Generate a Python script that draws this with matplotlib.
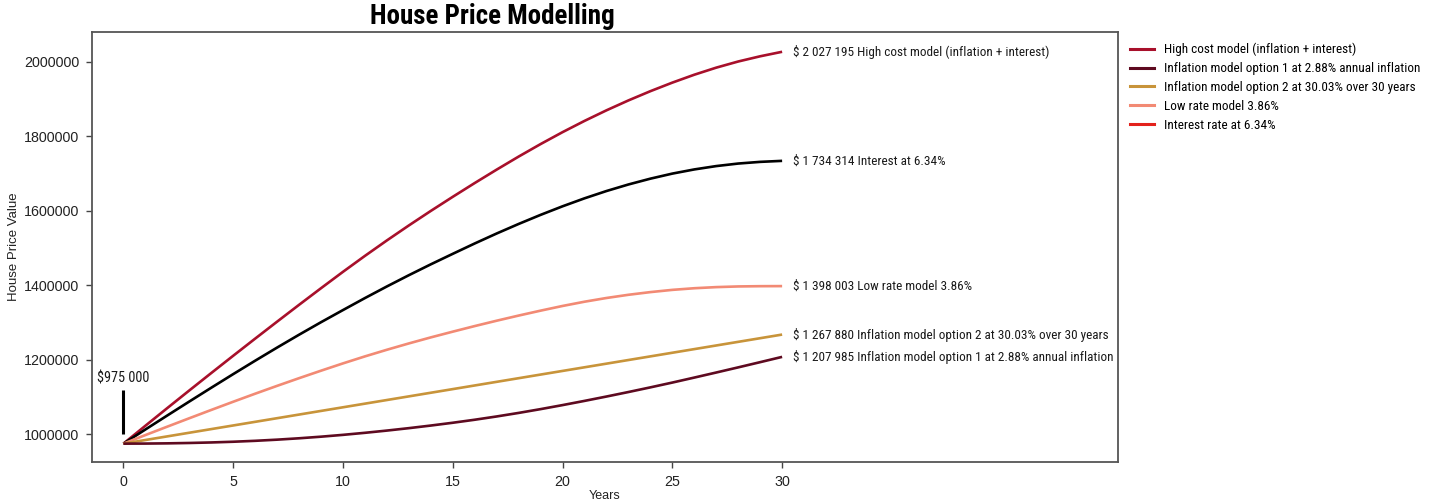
import matplotlib
matplotlib.use("Agg")
import matplotlib.pyplot as plt
from matplotlib import font_manager
from matplotlib.lines import Line2D

# Projected house price per year, starting from $975 000
years = list(range(31))

high_cost = [975000, 1023000, 1070600, 1117800, 1164600, 1211000, 1257000, 1302600,
             1347800, 1392400, 1436400, 1479200, 1520700, 1560900, 1599900, 1637800,
             1674800, 1710800, 1745800, 1779400, 1811400, 1841600, 1870000, 1896600,
             1921400, 1944400, 1965600, 1984600, 2001100, 2015100, 2027195]

interest = [975000, 1013000, 1050700, 1088100, 1125100, 1161700, 1197700, 1233000,
            1267500, 1301100, 1333700, 1365900, 1397100, 1427300, 1456500, 1484700,
            1512500, 1539300, 1564900, 1589300, 1612300, 1633700, 1653300, 1670900,
            1686500, 1700100, 1711300, 1720300, 1727100, 1731600, 1734314]

low_rate = [975000, 998000, 1020700, 1043200, 1065500, 1087500, 1109100, 1130200,
            1150800, 1170900, 1190500, 1209300, 1227100, 1244100, 1260300, 1275700,
            1290700, 1305100, 1318900, 1332100, 1344700, 1356100, 1366100, 1374700,
            1381900, 1387900, 1392300, 1395300, 1397100, 1397800, 1398003]

inflation_2 = [975000, 984763, 994525, 1004288, 1014051, 1023813, 1033576, 1043339,
               1053101, 1062864, 1072627, 1082389, 1092152, 1101915, 1111677, 1121440,
               1131203, 1140965, 1150728, 1160491, 1170253, 1180016, 1189779, 1199541,
               1209304, 1219067, 1228829, 1238592, 1248355, 1258117, 1267880]

inflation_1 = [975000, 975200, 975800, 976800, 978200, 980100, 982600, 985700,
               989400, 993700, 998600, 1004100, 1010100, 1016600, 1023600, 1031100,
               1039200, 1048000, 1057500, 1067700, 1078500, 1089800, 1101500, 1113600,
               1126100, 1139000, 1152400, 1166000, 1179800, 1193800, 1207985]

start_price = 975000

# (values, colour, end-of-line label)
series = [
    (high_cost, "#a8102b", "High cost model (inflation + interest)"),
    (interest, "#000000", "Interest at 6.34%"),
    (low_rate, "#f28a74", "Low rate model 3.86%"),
    (inflation_2, "#c8943a", "Inflation model option 2 at 30.03% over 30 years"),
    (inflation_1, "#5e0a20", "Inflation model option 1 at 2.88% annual inflation"),
]

legend_entries = [
    ("High cost model (inflation + interest)", "#a8102b"),
    ("Inflation model option 1 at 2.88% annual inflation", "#5e0a20"),
    ("Inflation model option 2 at 30.03% over 30 years", "#c8943a"),
    ("Low rate model 3.86%", "#f28a74"),
    ("Interest rate at 6.34%", "#e3221c"),
]

# pick the narrowest installed face for the annotation text
installed = {f.name for f in font_manager.fontManager.ttflist}
narrow_choices = [("Roboto Condensed", 9.5), ("Liberation Sans Narrow", 9.5),
                  ("Open Sans Condensed", 9.0), ("Lato", 8.2), ("DejaVu Sans", 7.2)]
NARROW_NAME, NARROW_SIZE = next((n, s) for n, s in narrow_choices if n in installed)
NARROW = [NARROW_NAME, "DejaVu Sans"]

plt.rcParams["font.family"] = ["Liberation Sans", "DejaVu Sans"]

fig = plt.figure(figsize=(14.38, 5.03), dpi=100)
ax = fig.add_axes([0.064, 0.0815, 0.7135, 0.8545])

for values, colour, label in series:
    ax.plot(years, values, color=colour, lw=1.9, solid_capstyle="butt")
    text = f"$ {values[-1]:,}".replace(",", " ") + " " + label
    ax.text(years[-1] + 0.5, values[-1], text, family=NARROW, fontsize=NARROW_SIZE,
            color="#1a1a1a", ha="left", va="center")

# starting price marker
ax.plot([0, 0], [1000000, 1118000], color="black", lw=2.2, solid_capstyle="butt")
ax.text(0, 1150000, f"${start_price:,}".replace(",", " "), family=NARROW,
        fontsize=NARROW_SIZE + 0.8, color="#1a1a1a", ha="center", va="center")

ax.set_xlim(-1.43, 45.3)
ax.set_ylim(925700, 2079800)
ax.set_xticks(range(0, 31, 5))
ax.set_yticks(range(1000000, 2000001, 200000))
ax.set_yticklabels([str(v) for v in range(1000000, 2000001, 200000)])
ax.tick_params(labelsize=10.3, colors="#444444", length=4, width=1, labelcolor="#222222",
               pad=5)
for spine in ax.spines.values():
    spine.set_color("#555555")
    spine.set_linewidth(1.3)

ax.set_xlabel("Years", fontsize=9, color="#222222", labelpad=1)
ax.set_ylabel("House Price Value", fontsize=9.5, color="#222222", labelpad=3)
fig.text(492 / 1438, 1 - 17 / 503, "House Price Modelling", family=[NARROW_NAME, "DejaVu Sans"],
         fontsize=NARROW_SIZE * 2.05, fontweight="bold", ha="center", va="center")

handles = [Line2D([], [], color=c, lw=2.2) for _, c in legend_entries]
labels = [t for t, _ in legend_entries]
ax.legend(handles, labels, loc="upper left", bbox_to_anchor=(1.0, 1.003),
          frameon=False, prop={"family": NARROW, "size": NARROW_SIZE},
          handlelength=1.8, handletextpad=0.8, labelspacing=0.45)

fig.savefig("out.png", dpi=100, facecolor="white")
